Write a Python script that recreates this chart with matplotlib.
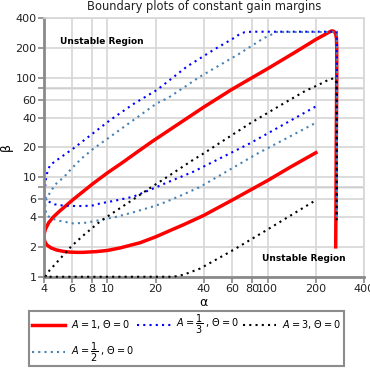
import numpy as np
import matplotlib
matplotlib.use("Agg")
import matplotlib.pyplot as plt
from matplotlib.ticker import FixedLocator, FixedFormatter, NullLocator

# A = 1, Theta = 0
alpha_a1 = [266, 267, 268, 270, 270, 269, 266, 262, 256, 250, 240, 200, 148, 100, 60, 40,
            25, 18.9, 15.2, 12.5, 10, 8.16, 6.12, 5.05, 4.6, 4.3, 4.1, 4.04, 4.02, 4.04,
            4.1, 4.2, 4.45, 4.81, 5.3, 5.83, 6.5, 7.0, 8.5, 10, 12, 16, 20, 25, 30, 40, 60,
            100, 140, 200]
beta_a1 = [2, 5, 20, 100, 200, 250, 276, 290, 297, 297, 287, 244, 181, 124, 77, 51,
           30.8, 22.8, 17.8, 14.2, 11.1, 8.7, 6.0, 4.6, 4.0, 3.5, 3.0, 2.75, 2.55, 2.35,
           2.2, 2.08, 1.95, 1.86, 1.8, 1.77, 1.76, 1.76, 1.79, 1.84, 1.95, 2.2, 2.52, 2.95,
           3.35, 4.15, 5.9, 9.3, 12.8, 17.7]

# A = 1/3, Theta = 0
alpha_a13 = [270, 271, 271, 270, 240, 180, 120, 80, 72, 66, 61, 45.8, 31.3, 24, 20.3, 14.5,
             10.4, 6.2, 5.0, 4.38, 4.2, 4.14, 4.12, 4.06, 4.04, 4.08, 4.3, 4.7, 5.3, 6.13,
             7.2, 8.2, 9.0, 11.1, 14.5, 18.4, 23.4, 34.4, 37.8, 77.6, 202]
beta_a13 = [4.2, 20, 100, 292, 292, 292, 292, 292, 289, 272, 250, 191, 130, 93, 75.5, 54.6,
            37.7, 19.8, 15.5, 13.3, 11.0, 9.8, 8.7, 7.8, 7.3, 6.3, 5.7, 5.35, 5.2, 5.15,
            5.15, 5.23, 5.47, 5.82, 6.39, 7.47, 8.83, 11.4, 12.3, 22, 52.2]

# A = 3, Theta = 0
alpha_a3 = [270, 270, 269, 262, 245, 210, 171, 120, 77.6, 55.5, 39.6, 33.6, 23.4, 18.4,
            14.5, 11.3, 9.0, 7.18, 5.98, 4.27, 4.1, 6, 10, 20, 25.8, 30, 37.9, 61.1, 98.6, 200]
beta_a3 = [3.7, 20, 90, 99, 97.5, 86, 73.8, 53, 34.9, 24.6, 17.3, 14.7, 10.0, 7.8,
           6.0, 4.6, 3.6, 2.66, 2.04, 1.12, 1.0, 1.0, 1.0, 1.0, 1.0, 1.05, 1.21, 1.86, 2.95, 5.9]

# A = 1/2, Theta = 0
alpha_a12 = [270, 271, 271, 270, 220, 160, 114, 94, 67.2, 37.8, 24, 20.3, 10.4, 8.2, 6.9,
             5.98, 5.36, 4.81, 4.48, 4.17, 4.08, 4.17, 4.48, 5.0, 6.13, 7.4, 9.0, 11.3,
             14.5, 20.1, 23.4, 29.6, 37.8, 85.5, 202]
beta_a12 = [4.0, 20, 100, 290, 290, 290, 290, 250, 177, 103, 63.2, 55.5, 25.6, 19.5, 15.5,
            12.3, 10.1, 8.7, 7.45, 6.14, 5.06, 4.17, 3.87, 3.66, 3.44, 3.5, 3.72, 4.0,
            4.45, 5.2, 5.7, 6.7, 8.0, 17.2, 35.7]

x_ticks = [4, 6, 8, 10, 20, 40, 60, 80, 100, 200, 400]
y_ticks = [1, 2, 4, 6, 8, 10, 20, 40, 60, 80, 100, 200, 400]
y_labels = ["1", "2", "4", "6", "", "10", "20", "40", "60", "", "100", "200", "400"]

fig = plt.figure(figsize=(3.7, 3.7), dpi=100)
ax = fig.add_axes([0.118, 0.252, 0.866, 0.699])

dots = (0, (1, 2))
l1, = ax.plot(alpha_a1, beta_a1, color="#ff0000", lw=2.5, label=r"$A=1,\,\Theta=0$")
l2, = ax.plot(alpha_a13, beta_a13, color="#0000ff", lw=1.5, ls=dots,
              label=r"$A=\dfrac{1}{3}$ , $\Theta=0$")
l3, = ax.plot(alpha_a3, beta_a3, color="black", lw=1.5, ls=dots, clip_on=False, zorder=3,
              label=r"$A=3,\,\Theta=0$")
l4, = ax.plot(alpha_a12, beta_a12, color="#4682b4", lw=1.5, ls=dots,
              label=r"$A=\dfrac{1}{2}$ , $\Theta=0$")

ax.set_xscale("log")
ax.set_yscale("log")
ax.set_xlim(4, 400)
ax.set_ylim(1, 400)

ax.xaxis.set_major_locator(FixedLocator(x_ticks))
ax.xaxis.set_major_formatter(FixedFormatter([str(t) for t in x_ticks]))
ax.xaxis.set_minor_locator(NullLocator())
ax.yaxis.set_major_locator(FixedLocator(y_ticks))
ax.yaxis.set_major_formatter(FixedFormatter(y_labels))
ax.yaxis.set_minor_locator(NullLocator())

ax.grid(True, color="#d6d6d6", lw=1.2)
for v in [8, 80]:
    ax.axhline(v, color="#a8a8a8", lw=1.0, zorder=0.5)
ax.set_axisbelow(True)

for s in ["left", "bottom"]:
    ax.spines[s].set_color("#8a8a8a")
    ax.spines[s].set_linewidth(2.0)
for s in ["top", "right"]:
    ax.spines[s].set_color("#d6d6d6")
    ax.spines[s].set_linewidth(1.2)
ax.tick_params(axis="both", which="both", labelsize=8, colors="#8a8a8a",
               labelcolor="#222222", length=4, width=1.2, pad=1)

ax.text(5.06, 235, "Unstable Region", fontsize=6.5, fontweight="bold", va="center")
ax.text(92, 1.54, "Unstable Region", fontsize=6.5, fontweight="bold", va="center")

ax.set_title("Boundary plots of constant gain margins", fontsize=8.3, color="#222222", pad=6)
ax.set_xlabel("α", fontsize=9, labelpad=2)
ax.set_ylabel("β", fontsize=9, labelpad=2)

# legend fills column by column, so order gives rows: red, blue, black / lightblue
leg = fig.legend([l1, l4, l2, l3], [l.get_label() for l in (l1, l4, l2, l3)],
                 loc="upper center", bbox_to_anchor=(0.504, 0.160), ncol=3,
                 fontsize=7, handlelength=3.4, columnspacing=0.4, handletextpad=0.6,
                 fancybox=False, borderpad=0.25, labelspacing=1.0, borderaxespad=0)
leg.get_frame().set_edgecolor("#707070")
leg.get_frame().set_linewidth(1.5)

fig.savefig("out.png", dpi=100)
